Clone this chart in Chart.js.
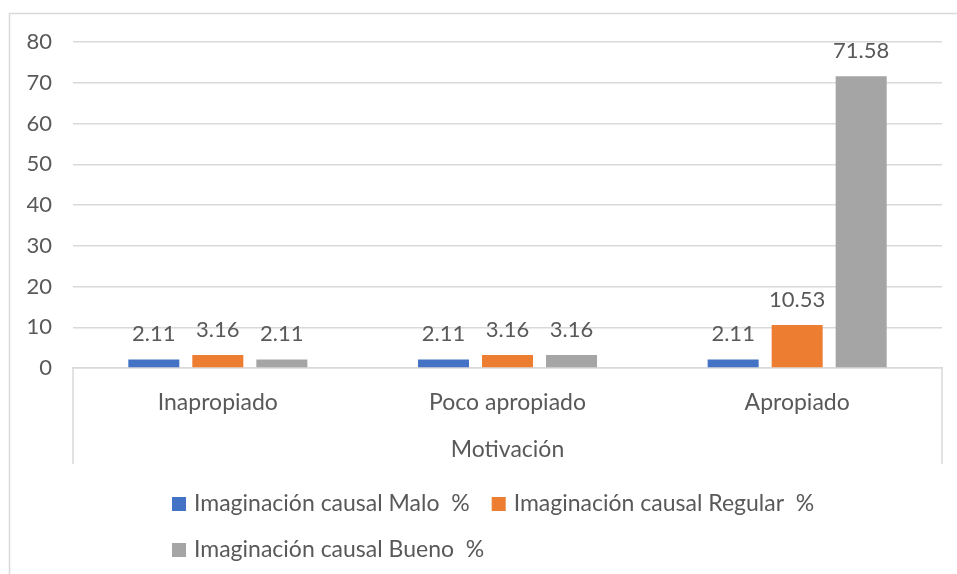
<!DOCTYPE html>
<html>
<head>
<meta charset="utf-8">
<script src="https://cdn.jsdelivr.net/npm/chart.js@4.4.1/dist/chart.umd.min.js"></script>
<style>
  html, body { margin: 0; padding: 0; background: #fff; }
  canvas { display: block; }
</style>
</head>
<body>
<canvas id="myChart" width="957" height="574"></canvas>
<script>
// data
const categories = ['Inapropiado', 'Poco apropiado', 'Apropiado'];
const seriesNames = ['Imaginación causal Malo  %', 'Imaginación causal Regular  %', 'Imaginación causal Bueno  %'];
const malo = [2.11, 2.11, 2.11];
const regular = [3.16, 3.16, 10.53];
const bueno = [2.11, 3.16, 71.58];
const yTicks = [0, 10, 20, 30, 40, 50, 60, 70, 80];
const axisTitle = 'Motivación';

const COLORS = ['#4472C4', '#ED7D31', '#A5A5A5'];
const TEXT = '#595959';
const LINE = '#D9D9D9';
const FONT = 'Lato';

Chart.defaults.font.family = FONT;
Chart.defaults.color = TEXT;

// value labels above bars
const valueLabels = {
    id: 'valueLabels',
    afterDatasetsDraw(chart) {
        const ctx = chart.ctx;
        ctx.save();
        ctx.font = '22px ' + FONT;
        ctx.fillStyle = TEXT;
        ctx.textAlign = 'center';
        ctx.textBaseline = 'middle';
        chart.data.datasets.forEach((ds, i) => {
            chart.getDatasetMeta(i).data.forEach((bar, j) => {
                ctx.fillText(ds.data[j].toFixed(2), bar.x, bar.y - 25);
            });
        });
        ctx.restore();
    }
};

// frame, category edge lines and excel-like legend
const frame = {
    id: 'frame',
    afterDraw(chart) {
        const ctx = chart.ctx;
        const a = chart.chartArea;
        ctx.save();
        ctx.strokeStyle = LINE;
        ctx.lineWidth = 1.5;
        ctx.beginPath();
        ctx.moveTo(9.5, chart.height);
        ctx.lineTo(9.5, 13.5);
        ctx.lineTo(chart.width, 13.5);
        ctx.moveTo(a.left, a.bottom);
        ctx.lineTo(a.left, a.bottom + 96);
        ctx.moveTo(a.right, a.bottom);
        ctx.lineTo(a.right, a.bottom + 96);
        ctx.stroke();

        // legend
        ctx.font = '23px ' + FONT;
        ctx.textBaseline = 'middle';
        ctx.textAlign = 'left';
        const startX = 172, maxX = 900;
        let x = startX, y = a.bottom + 136;
        chart.data.datasets.forEach((ds, i) => {
            const w = 14 + 8 + ctx.measureText(ds.label).width;
            if (x > startX && x + w > maxX) {
                x = startX;
                y += 46;
            }
            ctx.fillStyle = ds.backgroundColor;
            ctx.fillRect(x, y - 7, 14, 14);
            ctx.fillStyle = TEXT;
            ctx.fillText(ds.label, x + 22, y);
            x += w + 22;
        });
        ctx.restore();
    }
};

new Chart(document.getElementById('myChart'), {
    type: 'bar',
    data: {
        labels: categories,
        datasets: [
            { label: seriesNames[0], data: malo, backgroundColor: COLORS[0] },
            { label: seriesNames[1], data: regular, backgroundColor: COLORS[1] },
            { label: seriesNames[2], data: bueno, backgroundColor: COLORS[2] }
        ]
    },
    options: {
        responsive: false,
        animation: false,
        devicePixelRatio: 1,
        layout: { padding: { top: 42, right: 15, left: 0, bottom: 0 } },
        datasets: {
            bar: { categoryPercentage: 0.663, barPercentage: 0.797 }
        },
        plugins: {
            legend: { display: false },
            tooltip: { enabled: false }
        },
        scales: {
            x: {
                afterFit: (scale) => { scale.height = 206; },
                grid: { display: false },
                border: { display: true, color: LINE, width: 1.5 },
                ticks: { font: { size: 23 }, color: TEXT, padding: 13, maxRotation: 0 },
                title: {
                    display: true,
                    text: axisTitle,
                    font: { size: 23 },
                    color: TEXT,
                    padding: { top: 0, bottom: 111 }
                }
            },
            y: {
                min: 0,
                max: 80,
                afterFit: (scale) => { scale.width = 73; },
                afterBuildTicks: (scale) => { scale.ticks = yTicks.map(v => ({ value: v })); },
                grid: { color: LINE, lineWidth: 1.5, drawTicks: false },
                border: { display: false },
                ticks: { font: { size: 22 }, color: TEXT, padding: 21 }
            }
        }
    },
    plugins: [valueLabels, frame]
});
</script>
</body>
</html>
